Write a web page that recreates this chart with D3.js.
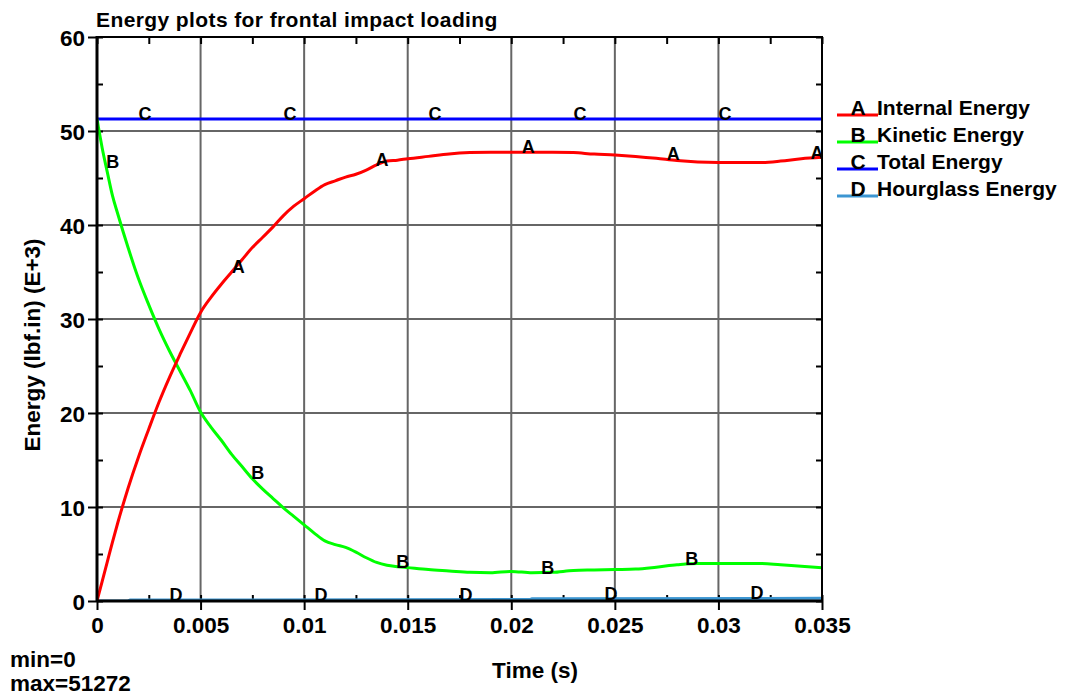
<!DOCTYPE html>
<html>
<head>
<meta charset="utf-8">
<script src="https://cdn.jsdelivr.net/npm/d3@7"></script>
<style>
  html, body { margin: 0; padding: 0; background: #fff; }
  svg { display: block; }
  text { font-family: "Liberation Sans", Arial, sans-serif; font-weight: bold; fill: #000; }
</style>
</head>
<body>
<svg id="chart" width="1074" height="698"></svg>
<script>
// Time samples (s) for internal and kinetic energy
const time = [0, 0.00025, 0.0005, 0.00075, 0.001, 0.0015, 0.002, 0.0025, 0.003, 0.0035,
  0.004, 0.0045, 0.005, 0.0055, 0.006, 0.0065, 0.007, 0.0075, 0.008, 0.0085,
  0.009, 0.0095, 0.01, 0.0105, 0.011, 0.0115, 0.012, 0.0125, 0.013, 0.0135,
  0.014, 0.0145, 0.015, 0.016, 0.017, 0.018, 0.019, 0.02, 0.021, 0.022,
  0.023, 0.024, 0.025, 0.026, 0.027, 0.028, 0.029, 0.03, 0.031, 0.032,
  0.033, 0.034, 0.035];

// Energies in lbf.in (E+3)
const internalEnergy = [0, 2.1, 4.2, 6.3, 8.3, 12.0, 15.3, 18.3, 21.2, 23.8,
  26.2, 28.5, 30.7, 32.3, 33.7, 35.0, 36.3, 37.6, 38.7, 39.8,
  41.0, 42.0, 42.8, 43.6, 44.3, 44.7, 45.1, 45.4, 45.85, 46.4,
  46.8, 46.9, 47.05, 47.3, 47.55, 47.7, 47.75, 47.75, 47.75, 47.75,
  47.7, 47.55, 47.45, 47.3, 47.1, 46.85, 46.7, 46.65, 46.65, 46.65,
  46.8, 47.05, 47.2];

const kineticEnergy = [51.27, 48.2, 45.6, 43.1, 41.2, 37.6, 34.3, 31.5, 28.9, 26.6,
  24.5, 22.4, 20.1, 18.5, 17.1, 15.6, 14.3, 13.0, 11.9, 10.9,
  9.9, 9.0, 8.1, 7.2, 6.4, 6.0, 5.7, 5.2, 4.6, 4.1,
  3.8, 3.65, 3.55, 3.35, 3.2, 3.05, 3.0, 3.15, 3.0, 3.05,
  3.25, 3.3, 3.35, 3.4, 3.6, 3.85, 4.0, 4.0, 4.0, 4.0,
  3.85, 3.7, 3.55];

const totalTime = [0, 0.035];
const totalEnergy = [51.272, 51.272];

const hourglassTime = [0, 0.0015, 0.0016, 0.0209, 0.021, 0.035];
const hourglassEnergy = [0, 0.01, 0.1, 0.15, 0.25, 0.28];

// Curve letter label positions (s); each letter starts at its point
const labelTimesA = [0.0065, 0.01345, 0.0205, 0.0275, 0.03445];
const labelTimesB = [0.00045, 0.00745, 0.01445, 0.02145, 0.0284];
const labelTimesC = [0.002, 0.009, 0.016, 0.023, 0.030];
const labelTimesD = [0.0035, 0.0105, 0.0175, 0.0245, 0.03155];

const seriesNames = ["Internal Energy", "Kinetic Energy", "Total Energy", "Hourglass Energy"];
const seriesLetters = ["A", "B", "C", "D"];
const seriesColors = ["#ff0000", "#00ff00", "#0000ff", "#3c96d2"];

const xTicks = [0, 0.005, 0.01, 0.015, 0.02, 0.025, 0.03, 0.035];
const xTickLabels = ["0", "0.005", "0.01", "0.015", "0.02", "0.025", "0.03", "0.035"];
const xMinorTicks = [0.0025, 0.0075, 0.0125, 0.0175, 0.0225, 0.0275, 0.0325];
const yTicks = [0, 10, 20, 30, 40, 50, 60];
const yTickLabels = ["0", "10", "20", "30", "40", "50", "60"];
const yMinorTicks = [5, 15, 25, 35, 45, 55];

const svg = d3.select("#chart");
const plotLeft = 97, plotRight = 822, plotTop = 37, plotBottom = 601;

const x = d3.scaleLinear().domain([0, 0.035]).range([plotLeft, plotRight]);
const y = d3.scaleLinear().domain([0, 60]).range([plotBottom, plotTop]);

// Grid
const grid = svg.append("g").attr("stroke", "#666").attr("stroke-width", 2);
grid.selectAll(".vx").data(xTicks.slice(1, -1)).join("line")
  .attr("x1", d => x(d)).attr("x2", d => x(d)).attr("y1", plotTop).attr("y2", plotBottom);
grid.selectAll(".hy").data(yTicks.slice(1, -1)).join("line")
  .attr("x1", plotLeft).attr("x2", plotRight).attr("y1", d => y(d)).attr("y2", d => y(d));

// Axes: outer ticks with labels
const xAxis = svg.append("g").attr("transform", `translate(0,${plotBottom})`)
  .call(d3.axisBottom(x).tickValues(xTicks).tickSize(9).tickFormat((d, i) => xTickLabels[i]));
xAxis.select(".domain").remove();
xAxis.selectAll(".tick line").attr("stroke", "#000").attr("stroke-width", 2);
xAxis.selectAll(".tick text").attr("y", 32).attr("dy", 0)
  .style("font-size", "22.5px").style("font-family", "Liberation Sans, Arial, sans-serif")
  .style("font-weight", "bold").attr("fill", "#000");

const yAxis = svg.append("g").attr("transform", `translate(${plotLeft},0)`)
  .call(d3.axisLeft(y).tickValues(yTicks).tickSize(9).tickFormat((d, i) => yTickLabels[i]));
yAxis.select(".domain").remove();
yAxis.selectAll(".tick line").attr("stroke", "#000").attr("stroke-width", 2);
yAxis.selectAll(".tick text").attr("x", -12).attr("dy", "0.36em")
  .style("font-size", "22.5px").style("font-family", "Liberation Sans, Arial, sans-serif")
  .style("font-weight", "bold").attr("fill", "#000");

// Inner ticks on all four sides
function innerTicks(axisFn, pos, values, size) {
  const g = svg.append("g").attr("transform", pos)
    .call(axisFn.tickValues(values).tickSize(size).tickFormat(""));
  g.select(".domain").remove();
  g.selectAll(".tick line").attr("stroke", "#000").attr("stroke-width", 2);
}
const xAll = xTicks.concat(xMinorTicks);
const yAll = yTicks.concat(yMinorTicks);
innerTicks(d3.axisTop(x), `translate(0,${plotBottom})`, xAll, 6);
innerTicks(d3.axisBottom(x), `translate(0,${plotTop})`, xAll, 7);
innerTicks(d3.axisRight(y), `translate(${plotLeft},0)`, yAll, 6);
innerTicks(d3.axisLeft(y), `translate(${plotRight},0)`, yAll, 6);

// Series lines
svg.append("clipPath").attr("id", "plotclip")
  .append("rect").attr("x", plotLeft).attr("y", plotTop - 2)
  .attr("width", plotRight - plotLeft).attr("height", plotBottom - plotTop + 2);

const series = [
  { t: time, v: internalEnergy, labels: labelTimesA, curve: d3.curveMonotoneX },
  { t: time, v: kineticEnergy, labels: labelTimesB, curve: d3.curveMonotoneX },
  { t: totalTime, v: totalEnergy, labels: labelTimesC, curve: d3.curveLinear },
  { t: hourglassTime, v: hourglassEnergy, labels: labelTimesD, curve: d3.curveLinear }
];

const plot = svg.append("g").attr("clip-path", "url(#plotclip)");
[3, 2, 1, 0].forEach(i => {
  const s = series[i];
  const line = d3.line().x(d => x(d[0])).y(d => y(d[1])).curve(s.curve);
  plot.append("path")
    .datum(s.t.map((t, k) => [t, s.v[k]]))
    .attr("fill", "none")
    .attr("stroke", seriesColors[i])
    .attr("stroke-width", 3)
    .attr("d", line);
});

// Letter markers along each curve
function valueAt(s, t) {
  const k = Math.max(1, d3.bisectLeft(s.t, t));
  const t0 = s.t[k - 1], t1 = s.t[k];
  const f = t1 === t0 ? 0 : (t - t0) / (t1 - t0);
  return s.v[k - 1] + f * (s.v[k] - s.v[k - 1]);
}
const labels = svg.append("g").attr("clip-path", "url(#plotclip)");
series.forEach((s, i) => {
  labels.append("g").selectAll("text").data(s.labels).join("text")
    .attr("x", d => x(d))
    .attr("y", d => y(valueAt(s, d)) + 1)
    .attr("text-anchor", "start")
    .style("font-size", "18px")
    .text(seriesLetters[i]);
});

// Frame
svg.append("line").attr("x1", plotLeft).attr("x2", plotLeft).attr("y1", plotTop - 1).attr("y2", plotBottom + 1)
  .attr("stroke", "#000").attr("stroke-width", 3);
svg.append("line").attr("x1", plotLeft).attr("x2", plotRight + 1).attr("y1", plotBottom).attr("y2", plotBottom)
  .attr("stroke", "#000").attr("stroke-width", 3);
svg.append("line").attr("x1", plotLeft).attr("x2", plotRight + 1).attr("y1", plotTop).attr("y2", plotTop)
  .attr("stroke", "#000").attr("stroke-width", 2);
svg.append("line").attr("x1", plotRight).attr("x2", plotRight).attr("y1", plotTop).attr("y2", plotBottom)
  .attr("stroke", "#000").attr("stroke-width", 2);

// Title and axis titles
svg.append("text").attr("x", 96).attr("y", 27).style("font-size", "21px")
  .style("letter-spacing", "0.4px")
  .text("Energy plots for frontal impact loading");
svg.append("text").attr("x", 535).attr("y", 678).attr("text-anchor", "middle")
  .style("font-size", "22.5px").text("Time (s)");
svg.append("text").attr("transform", "translate(40,345) rotate(-90)")
  .attr("text-anchor", "middle").style("font-size", "22.5px")
  .text("Energy (lbf.in) (E+3)");

svg.append("text").attr("x", 10).attr("y", 667).style("font-size", "22.5px").text("min=0");
svg.append("text").attr("x", 10).attr("y", 691).style("font-size", "22.5px").text("max=51272");

// Legend
const legend = svg.append("g");
seriesNames.forEach((name, i) => {
  const ly = 115 + i * 27;
  legend.append("line").attr("x1", 837).attr("x2", 878).attr("y1", ly).attr("y2", ly)
    .attr("stroke", seriesColors[i]).attr("stroke-width", 3);
  legend.append("text").attr("x", 858).attr("y", ly).attr("text-anchor", "middle")
    .style("font-size", "21px").text(seriesLetters[i]);
  legend.append("text").attr("x", 877).attr("y", ly).style("font-size", "21px").text(name);
});
</script>
</body>
</html>
